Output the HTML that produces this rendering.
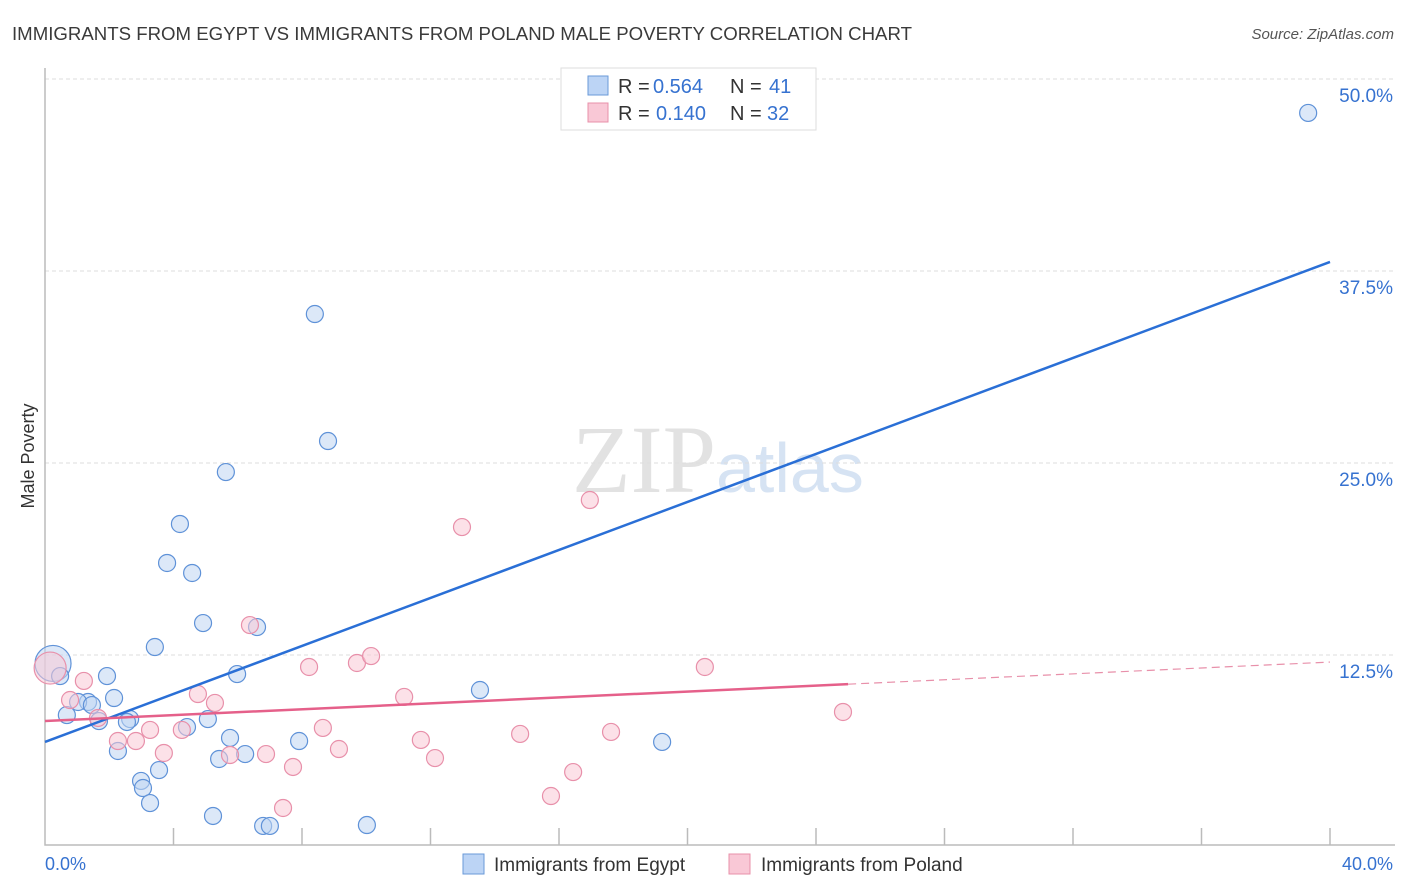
<!DOCTYPE html>
<html><head><meta charset="utf-8"><style>
body{margin:0;background:#fff;font-family:"Liberation Sans",sans-serif}
svg{display:block}
</style></head><body>
<svg id="c" width="1406" height="892">
<text x="12" y="40" font-size="18" fill="#3a3a3a" textLength="900" lengthAdjust="spacingAndGlyphs">IMMIGRANTS FROM EGYPT VS IMMIGRANTS FROM POLAND MALE POVERTY CORRELATION CHART</text>
<text x="1394" y="39" font-size="15" fill="#555" font-style="italic" text-anchor="end">Source: ZipAtlas.com</text>
<text x="716" y="492" font-size="96" fill="#e2e2e2" font-family="Liberation Serif" text-anchor="end">ZIP</text>
<text x="716" y="492" font-size="70" fill="#d6e3f3">atlas</text>
<text transform="translate(34,456) rotate(-90)" font-size="18" fill="#333" text-anchor="middle">Male Poverty</text>
<g id="grid"></g><g id="marks"></g>
<g>
<rect x="561" y="68" width="255" height="62" fill="#fff" stroke="#ddd"/>
<rect x="588" y="76" width="20" height="19" fill="#bcd4f5" stroke="#6a9ad8"/>
<rect x="588" y="103" width="20" height="19" fill="#f9c8d6" stroke="#e890aa"/>
<text x="618" y="93" font-size="20" fill="#333">R =</text>
<text x="653" y="93" font-size="20" fill="#3672d0">0.564</text>
<text x="730" y="93" font-size="20" fill="#333">N =</text>
<text x="769" y="93" font-size="20" fill="#3672d0">41</text>
<text x="618" y="120" font-size="20" fill="#333">R =</text>
<text x="656" y="120" font-size="20" fill="#3672d0">0.140</text>
<text x="730" y="120" font-size="20" fill="#333">N =</text>
<text x="767" y="120" font-size="20" fill="#3672d0">32</text>
</g>
<g>
<rect x="463" y="854" width="21" height="20" fill="#bcd4f5" stroke="#6a9ad8"/>
<text x="494" y="871" font-size="19" fill="#333">Immigrants from Egypt</text>
<rect x="729" y="854" width="21" height="20" fill="#f9c8d6" stroke="#e890aa"/>
<text x="761" y="871" font-size="19" fill="#333">Immigrants from Poland</text>
</g>
<text x="45" y="870" font-size="18" fill="#3672d0">0.0%</text>
<text x="1393" y="870" font-size="18" fill="#3672d0" text-anchor="end">40.0%</text>
</svg>
<script>
const yTicks=[12.5,25,37.5,50];
const yTickLabels=["12.5%","25.0%","37.5%","50.0%"];
const xTicks=[4,8,12,16,20,24,28,32,36,40];
const egyptX=[39.32,8.40,8.81,5.63,4.20,3.80,4.58,4.92,6.60,3.42,5.98,1.93,0.25,2.15,1.34,0.68,1.03,1.46,1.68,2.65,2.55,4.42,5.07,5.76,6.23,5.42,7.91,2.27,13.54,19.21,3.55,2.99,3.05,3.27,5.23,6.79,7.00,10.02,0.47];
const egyptY=[47.79,34.70,26.43,24.41,21.03,18.49,17.84,14.58,14.32,13.02,11.26,11.13,11.95,9.70,9.44,8.59,9.44,9.24,8.20,8.33,8.14,7.81,8.33,7.10,6.05,5.73,6.90,6.25,10.22,6.84,5.01,4.30,3.84,2.86,2.02,1.37,1.37,1.43,11.13];
const polandX=[0.16,1.21,0.78,1.65,3.27,2.83,2.27,3.70,4.26,4.76,5.29,6.38,5.76,6.88,7.72,8.22,8.65,9.15,9.71,10.15,11.18,11.70,12.14,12.98,14.79,16.96,16.44,15.75,17.62,20.54,24.84,7.41];
const polandY=[11.65,10.81,9.57,8.40,7.62,6.90,6.90,6.12,7.62,9.96,9.38,14.45,5.99,6.05,5.21,11.72,7.75,6.38,11.98,12.43,9.77,6.97,5.79,20.83,7.36,22.59,4.88,3.32,7.49,11.72,8.79,2.54];
const egyptTrend=[6.84,38.09];   // value at x=0 and x=40
const polandTrend=[8.20,12.04];
const polandSolidEnd=25;
const X=v=>45+v*32.125, Y=v=>847-v*15.36;
const NS="http://www.w3.org/2000/svg";
function mk(t,a,p){const e=document.createElementNS(NS,t);for(const k in a)e.setAttribute(k,a[k]);p.appendChild(e);return e;}
const grid=document.getElementById('grid'), marks=document.getElementById('marks');
yTicks.forEach((t,i)=>{
 const l=mk('line',{x1:45,x2:1395,y1:Y(t),y2:Y(t),stroke:'#ddd','stroke-dasharray':'4,3'},grid);
 
 
 const tx=mk('text',{x:1393,y:Y(t)+23,'font-size':19,fill:'#3672d0','text-anchor':'end'},grid);
 tx.textContent=yTickLabels[i];
 
 
});
const ax=mk('path',{d:'M45 68V845H1395',fill:'none',stroke:'#bbb','stroke-width':1.5},grid);


xTicks.forEach(t=>{
 const l=mk('line',{x1:X(t),x2:X(t),y1:828,y2:845,stroke:'#bbb','stroke-width':1.5},grid);
 
 
});
function dots(xs,ys,fill,stroke,name,bigR){
 xs.forEach((x,i)=>{
  const big=(x<0.3);
  const c=mk('circle',{cx:X(x),cy:Y(ys[i]),r:big?bigR:8.5,fill:fill,'fill-opacity':0.55,stroke:stroke,'stroke-width':1.2},marks);
  
  
 });
}
dots(egyptX,egyptY,'#c0d6f3','#5f92d8','egypt-point',18);
dots(polandX,polandY,'#f9c8d6','#e890aa','poland-point',16);
const bl=mk('line',{x1:X(0),y1:Y(egyptTrend[0]),x2:X(40),y2:Y(egyptTrend[1]),stroke:'#2a6fd6','stroke-width':2.5},marks);


const pv=x=>polandTrend[0]+(polandTrend[1]-polandTrend[0])*x/40;
const pl=mk('line',{x1:X(0),y1:Y(pv(0)),x2:X(polandSolidEnd),y2:Y(pv(polandSolidEnd)),stroke:'#e5608a','stroke-width':2.5},marks);


const pd=mk('line',{x1:X(polandSolidEnd),y1:Y(pv(polandSolidEnd)),x2:X(40),y2:Y(pv(40)),stroke:'#e890aa','stroke-width':1.2,'stroke-dasharray':'8,5'},marks);


</script>
</body></html>
